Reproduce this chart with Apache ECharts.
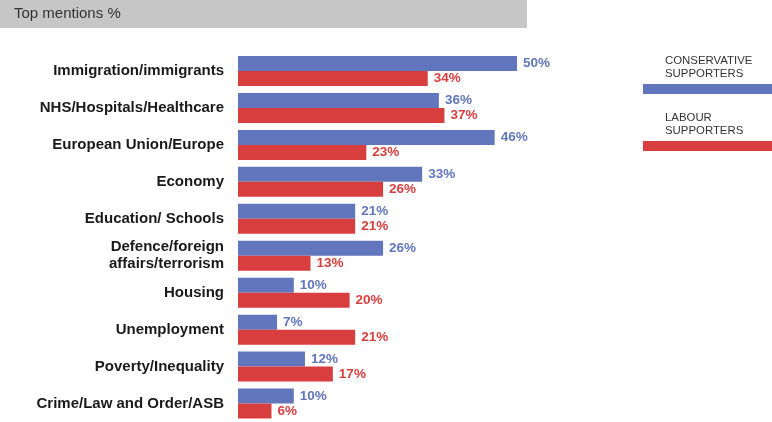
<!DOCTYPE html>
<html><head><meta charset="utf-8">
<script src="https://cdn.jsdelivr.net/npm/echarts@6/dist/echarts.min.js"></script>
<style>html,body{margin:0;padding:0;background:#fff}#c{width:772px;height:422px}</style>
</head><body><div id="c"></div>
<script>
const categories = ["Immigration/immigrants","NHS/Hospitals/Healthcare","European Union/Europe","Economy","Education/ Schools","Defence/foreign\naffairs/terrorism","Housing","Unemployment","Poverty/Inequality","Crime/Law and Order/ASB"];
const conservative = [50,36,46,33,21,26,10,7,12,10];
const labour = [34,37,23,26,21,13,20,21,17,6];
const seriesNames = ["CONSERVATIVE\nSUPPORTERS","LABOUR\nSUPPORTERS"];
const BLUE = "#6176bc", RED = "#d93e3e";
const chart = echarts.init(document.getElementById('c'), null, {renderer:'canvas'});
function lbl(color){return {show:true,position:'right',distance:6,formatter:'{c}%',color:color,fontWeight:'bold',fontSize:13.5,fontFamily:'Liberation Sans, Arial, sans-serif'};}
chart.setOption({
  animation:false,
  grid:{left:238,top:52.5,width:534,height:370,containLabel:false},
  xAxis:{type:'value',min:0,max:95.7,show:false},
  yAxis:{type:'category',data:categories,inverse:true,
    axisLine:{show:false},axisTick:{show:false},
    axisLabel:{margin:14,color:'#1a1a1a',fontWeight:'bold',fontSize:15,fontFamily:'Liberation Sans, Arial, sans-serif',lineHeight:17}},
  series:[
    {name:seriesNames[0],type:'bar',data:conservative,barWidth:15,barGap:'0%',itemStyle:{color:BLUE},label:lbl(BLUE)},
    {name:seriesNames[1],type:'bar',data:labour,barWidth:15,barGap:'0%',itemStyle:{color:RED},label:lbl(RED)}
  ],
  graphic:[
    {type:'rect',left:0,top:0,shape:{width:527,height:28},style:{fill:'#c6c6c6'}},
    {type:'text',left:14,top:6,style:{text:'Top mentions %',fill:'#333',font:'15px "Liberation Sans", Arial, sans-serif'}},
    {type:'text',left:665,top:54,style:{text:seriesNames[0],fill:'#333',font:'11.4px "Liberation Sans", Arial, sans-serif',lineHeight:13}},
    {type:'rect',left:643,top:84,shape:{width:129,height:10},style:{fill:BLUE}},
    {type:'text',left:665,top:111,style:{text:seriesNames[1],fill:'#333',font:'11.4px "Liberation Sans", Arial, sans-serif',lineHeight:13}},
    {type:'rect',left:643,top:141,shape:{width:129,height:10},style:{fill:RED}}
  ]
});
</script></body></html>
